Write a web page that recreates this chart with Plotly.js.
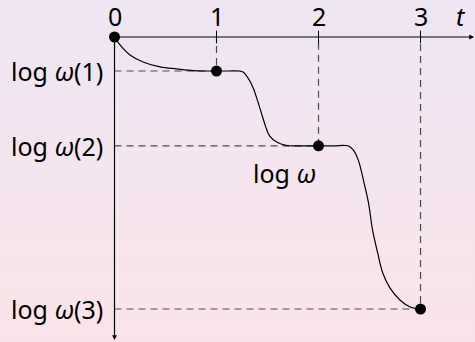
<!DOCTYPE html>
<html>
<head>
<meta charset="utf-8">
<script src="https://cdn.plot.ly/plotly-3.0.1.min.js"></script>
<style>
  html, body { margin: 0; padding: 0; }
  body { width: 475px; height: 342px; overflow: hidden;
         background: linear-gradient(to bottom, rgb(239,229,244) 0%, rgb(244,229,240) 45%, rgb(251,228,233) 100%); }
  #chart { width: 475px; height: 342px; }
</style>
</head>
<body>
<div id="chart"></div>
<script>
// Plateau times and log-levels of omega
const stepTimes = [0, 1, 2, 3];
const stepLevels = [0, -1, -3.2, -8];
const tickLabels = ['0', '1', '2', '3'];
const levelLabels = ['log <i>ω</i>(1)', 'log <i>ω</i>(2)', 'log <i>ω</i>(3)'];

// Sampled path of log omega(t)
const curveT = [0, 0.054, 0.152, 0.28, 0.446, 0.61, 0.77, 0.9, 1.0, 1.12, 1.22,
                1.26, 1.31, 1.36, 1.40, 1.44, 1.48, 1.52, 1.59, 1.67, 1.74, 1.9, 2.0, 2.15, 2.29,
                2.34, 2.39, 2.44, 2.49, 2.53, 2.58, 2.63, 2.70, 2.80, 2.90, 3.0];
const curveY = [0, -0.235, -0.53, -0.735, -0.88, -0.94, -0.99, -1.0, -1.0, -1.0, -1.0,
                -1.03, -1.21, -1.5, -1.85, -2.24, -2.62, -2.91, -3.09, -3.18, -3.2, -3.2, -3.2, -3.2, -3.2,
                -3.32, -3.62, -4.21, -4.88, -5.68, -6.35, -6.94, -7.38, -7.74, -7.94, -8.0];

// Axis extents
const xTip = 3.525, yTip = -8.91;
const xRange = [-1.1225, 3.534];
const yRange = [-8.97, 1.088];

// Dashed guides: from the y axis to each dot, then up to the t axis
const guideX = [], guideY = [];
for (let i = 1; i < stepTimes.length; i++) {
  guideX.push(0, stepTimes[i], stepTimes[i], null);
  guideY.push(stepLevels[i], stepLevels[i], 0, null);
}

const ink = '#000';
const fontFam = '"Noto Sans", "DejaVu Sans", sans-serif';
const fs = 25;

const traces = [
  { x: guideX, y: guideY, mode: 'lines', hoverinfo: 'skip',
    line: { color: '#4a4a4a', width: 1.2, dash: '7px,5px' } },
  { x: stepTimes.slice(1), y: stepTimes.slice(1).map(() => 0), mode: 'markers', hoverinfo: 'skip',
    marker: { symbol: 'line-ns', size: 9, line: { color: ink, width: 1 } } },
  { x: curveT, y: curveY, mode: 'lines', hoverinfo: 'skip',
    line: { color: ink, width: 1.2, shape: 'spline', smoothing: 1 } },
  { x: stepTimes, y: stepLevels, mode: 'markers', hoverinfo: 'skip',
    marker: { color: ink, size: 11 } }
];

const annotations = [
  // t axis and omega axis with arrow tips
  { x: xTip, y: 0, ax: 0, ay: 0, xref: 'x', yref: 'y', axref: 'x', ayref: 'y',
    showarrow: true, arrowhead: 2, arrowsize: 0.8, arrowwidth: 1.2, arrowcolor: ink, text: '' },
  { x: 0, y: yTip, ax: 0, ay: 0, xref: 'x', yref: 'y', axref: 'x', ayref: 'y',
    showarrow: true, arrowhead: 2, arrowsize: 0.8, arrowwidth: 1.2, arrowcolor: ink, text: '' },
  { x: xTip, y: 0, xref: 'x', yref: 'y', text: '<i>t</i>', showarrow: false,
    xanchor: 'center', yanchor: 'middle', xshift: -13, yshift: 21,
    font: { family: fontFam, size: fs, color: ink } },
  { x: stepTimes[2], y: stepLevels[2], xref: 'x', yref: 'y', text: 'log <i>ω</i>', showarrow: false,
    xanchor: 'center', yanchor: 'middle', xshift: -34, yshift: -27,
    font: { family: fontFam, size: fs, color: ink } }
];
stepTimes.forEach((t, i) => annotations.push({
  x: t, y: 0, xref: 'x', yref: 'y', text: tickLabels[i], showarrow: false,
  xanchor: 'center', yanchor: 'middle', yshift: 21,
  font: { family: fontFam, size: fs, color: ink }
}));
levelLabels.forEach((lab, i) => annotations.push({
  x: 0, y: stepLevels[i + 1], xref: 'x', yref: 'y', text: lab, showarrow: false,
  xanchor: 'right', yanchor: 'middle', xshift: -10,
  font: { family: fontFam, size: fs, color: ink }
}));

const layout = {
  width: 475, height: 342,
  margin: { l: 0, r: 0, t: 0, b: 0, pad: 0 },
  paper_bgcolor: 'rgba(0,0,0,0)', plot_bgcolor: 'rgba(0,0,0,0)',
  showlegend: false,
  xaxis: { range: xRange, visible: false, fixedrange: true },
  yaxis: { range: yRange, visible: false, fixedrange: true },
  annotations: annotations
};

Plotly.newPlot('chart', traces, layout, { staticPlot: true, displayModeBar: false });
</script>
</body>
</html>
